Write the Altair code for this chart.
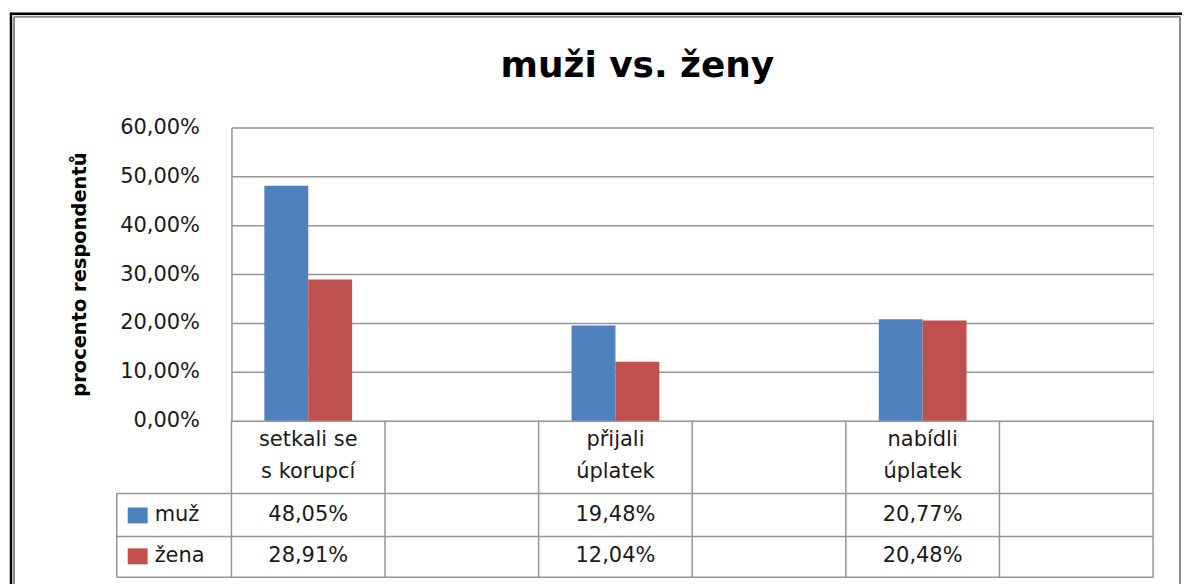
import altair as alt
import pandas as pd

# ---------------- data ----------------
columns = ["setkali se\ns korupcí", "", "přijali\núplatek", "", "nabídli\núplatek", ""]
series = ["muž", "žena"]
muz = [48.05, None, 19.48, None, 20.77, None]
zena = [28.91, None, 12.04, None, 20.48, None]
colors = ["#4F81BD", "#C0504D"]
y_ticks = [0, 0.1, 0.2, 0.3, 0.4, 0.5, 0.6]

rows = []
for i, lab in enumerate(columns):
    for s, vals in zip(series, [muz, zena]):
        rows.append({"col": i, "label": lab, "series": s, "value": vals[i]})
df = pd.DataFrame(rows)
cols_df = pd.DataFrame({"col": list(range(len(columns))), "label": columns})
ser_df = pd.DataFrame({"series": series})
one = pd.DataFrame({"k": [0]})

# ---------------- style ----------------
FONT = "DejaVu Sans"
TXT = "#1a1a1a"
GRID = "#969696"
W, H = 924, 294
ROW_LINES = [367, 410, 451]  # bottom edges of header / muž / žena rows (px from plot top)
ROW_Y = [389, 430]           # centre of the muž / žena table rows
HDR_Y = 313                  # centre of first header line
pct = "replace(format({v}, '.2%'), '.', ',')"

x_scale = alt.Scale(domain=list(range(len(columns))), paddingInner=0, paddingOuter=0)
color_scale = alt.Scale(domain=series, range=colors)
X = alt.X("col:O", scale=x_scale, axis=None)

bars = alt.Chart(df).transform_filter("isValid(datum.value)").transform_calculate(
    frac="datum.value / 100"
).mark_bar().encode(
    x=X,
    xOffset=alt.XOffset("series:N", scale=alt.Scale(domain=series, paddingInner=0, paddingOuter=0.75)),
    y=alt.Y(
        "frac:Q",
        scale=alt.Scale(domain=[0, 0.6], nice=False),
        axis=alt.Axis(
            values=y_ticks,
            labelExpr=pct.format(v="datum.value"),
            grid=True, gridColor=GRID, gridWidth=1.5,
            ticks=False,
            domain=True, domainColor=GRID, domainWidth=1.5,
            labelFont=FONT, labelFontSize=21, labelColor=TXT, labelPadding=32,
            title="procento respondentů",
            titleFont=FONT, titleFontSize=19.5, titleFontWeight="bold", titleColor="black",
            titleAngle=270, titleX=-152, titleY=147, titleAlign="center", titleBaseline="middle",
        ),
    ),
    color=alt.Color("series:N", scale=color_scale, legend=None),
)

# ---------------- data table below the axis ----------------
header = alt.Chart(cols_df).mark_text(
    font=FONT, fontSize=21, color=TXT, lineBreak="\n", lineHeight=32, baseline="middle"
).encode(x=X, y=alt.value(HDR_Y), text="label:N")

layers = [bars, header]
for i, s in enumerate(series):
    vals = alt.Chart(df).transform_filter(
        f"datum.series == '{s}' && isValid(datum.value)"
    ).transform_calculate(txt=pct.format(v="datum.value / 100")).mark_text(
        font=FONT, fontSize=21, color=TXT, baseline="middle"
    ).encode(x=X, y=alt.value(ROW_Y[i]), text="txt:N")
    sq = alt.Chart(ser_df).transform_filter(f"datum.series == '{s}'").mark_point(
        shape="M-1,-0.8H1V0.8H-1Z", filled=True, size=400, opacity=1, strokeWidth=0
    ).encode(x=alt.value(-94), y=alt.value(ROW_Y[i]),
             color=alt.Color("series:N", scale=color_scale, legend=None))
    lab = alt.Chart(ser_df).transform_filter(f"datum.series == '{s}'").mark_text(
        font=FONT, fontSize=21, color=TXT, baseline="middle", align="left"
    ).encode(x=alt.value(-77), y=alt.value(ROW_Y[i]), text="series:N")
    layers += [vals, sq, lab]

# table grid lines
line = dict(color=GRID, strokeWidth=1.5)
for yy in ROW_LINES:
    layers.append(alt.Chart(one).mark_rule(**line).encode(
        x=alt.value(-115), x2=alt.value(W), y=alt.value(yy)))
layers.append(alt.Chart(cols_df).mark_rule(**line).encode(
    x=alt.X("col:O", scale=x_scale, axis=None, bandPosition=0),
    y=alt.value(H), y2=alt.value(ROW_LINES[-1])))
layers.append(alt.Chart(cols_df).transform_filter(f"datum.col == {len(columns) - 1}").mark_rule(**line).encode(
    x=alt.X("col:O", scale=x_scale, axis=None, bandPosition=1),
    y=alt.value(H), y2=alt.value(ROW_LINES[-1])))
layers.append(alt.Chart(one).mark_rule(**line).encode(
    x=alt.value(-115), y=alt.value(ROW_LINES[0]), y2=alt.value(ROW_LINES[-1])))

# outer frame (grey inner border, black outer border on top / left)
FB = 468
frame = dict(color="#8c8c8c", strokeWidth=2)
layers.append(alt.Chart(one).mark_rule(**frame).encode(
    x=alt.value(-218), x2=alt.value(951), y=alt.value(-111)))
layers.append(alt.Chart(one).mark_rule(**frame).encode(
    x=alt.value(-218), y=alt.value(-111), y2=alt.value(FB)))
layers.append(alt.Chart(one).mark_rule(**frame).encode(
    x=alt.value(951), y=alt.value(-111), y2=alt.value(FB)))
layers.append(alt.Chart(one).mark_rule(color="black", strokeWidth=2.5).encode(
    x=alt.value(-222), x2=alt.value(953), y=alt.value(-114)))
layers.append(alt.Chart(one).mark_rule(color="black", strokeWidth=2.5).encode(
    x=alt.value(-221), y=alt.value(-115), y2=alt.value(FB)))

chart = alt.layer(*layers).properties(
    width=W, height=H,
    padding={"left": 0, "top": 2, "right": 0, "bottom": 0},
    title=alt.Title("muži vs. ženy", font=FONT, fontSize=36, fontWeight="bold", color="black",
                    anchor="middle", frame="group", dx=-55, offset=-74),
).configure_view(stroke=None).configure(background="white")

chart.save("out.html", embed_options={"renderer": "svg", "actions": False})
